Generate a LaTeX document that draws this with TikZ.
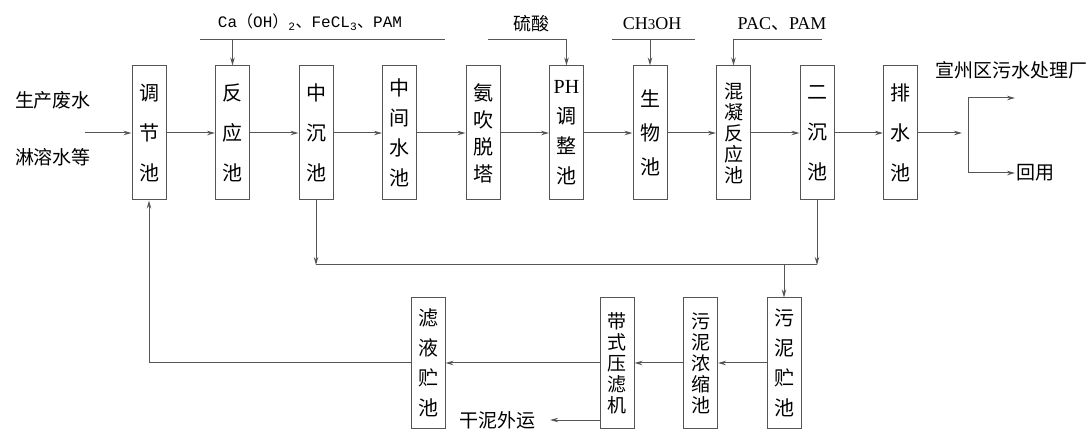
\documentclass[tikz,border=0pt]{standalone}
\usepackage{fontspec}
\setmainfont{Liberation Serif}
\newfontfamily\cjk{Noto Sans CJK SC}
\newfontfamily\mono{Liberation Mono}
\usepackage{tikz}
\usetikzlibrary{arrows.meta,positioning}
\usepackage{xcolor}
\definecolor{lnGray}{RGB}{85,85,85}
\tikzstyle{arrow} = [line width=1pt,-{Stealth[length=8pt,width=4.5pt]},color=lnGray]
\tikzstyle{line} = [line width=1pt,color=lnGray]
\tikzstyle{pool} = [rectangle, draw=lnGray, line width=1pt, minimum width=34pt, minimum height=134pt, inner sep=0pt, align=center, font=\cjk\fontsize{20}{40}\selectfont]
\tikzstyle{poolfour} = [pool, font=\cjk\fontsize{20}{30}\selectfont]
\tikzstyle{poolfive} = [pool, font=\cjk\fontsize{19}{21}\selectfont]
\tikzstyle{label} = [font=\cjk\fontsize{19}{22}\selectfont, inner sep=1pt]

\begin{document}
\begin{tikzpicture}[x=1pt,y=-1pt,node distance=83.5pt]
\useasboundingbox (0,0) rectangle (1090,430);
% Main line
\node (tj) [pool] at (149,133) {调\\节\\池};
\node (fy) [pool, right of=tj] {反\\应\\池};
\node (zc) [pool, right of=fy] {中\\沉\\池};
\node (zj) [poolfour, right of=zc] {中\\间\\水\\池};
\node (aq) [poolfour, right of=zj, font=\cjk\fontsize{20}{27}\selectfont] {氨\\吹\\脱\\塔};
\node (ph) [poolfour, right of=aq] {{\rmfamily PH}\\调\\整\\池};
\node (sw) [pool, right of=ph, font=\cjk\fontsize{20}{34}\selectfont] {生\\物\\池};
\node (hn) [poolfive, right of=sw] {混\\凝\\反\\应\\池};
\node (ec) [pool, right of=hn] {二\\沉\\池};
\node (ps) [pool, right of=ec] {排\\水\\池};

% Sludge line
\node (wz) [poolfour, minimum height=130pt] at (784,363) {污\\泥\\贮\\池};
\node (ns) [poolfive, minimum height=130pt, left of=wz] {污\\泥\\浓\\缩\\池};
\node (dy) [poolfive, minimum height=130pt, left of=ns] {带\\式\\压\\滤\\机};
\node (ly) [poolfour, minimum height=130pt] at (428,363) {滤\\液\\贮\\池};

% Inlet and outlet
\node (in1) [label] at (53,100) {生产废水};
\node (in2) [label] at (53,157) {淋溶水等};
\coordinate (inlet) at (85,133);
\coordinate (outlet) at (962,133);
\coordinate (brT) at (968,98);
\coordinate (brB) at (968,173);
\coordinate (brTe) at (1015,98);
\node (xz) [label] at (1011,70) {宣州区污水处理厂};
\node (hy) [label, anchor=west] at (1015,173) {回用};

\draw[arrow] (inlet) -- (tj);
\draw[arrow] (tj) -- (fy);
\draw[arrow] (fy) -- (zc);
\draw[arrow] (zc) -- (zj);
\draw[arrow] (zj) -- (aq);
\draw[arrow] (aq) -- (ph);
\draw[arrow] (ph) -- (sw);
\draw[arrow] (sw) -- (hn);
\draw[arrow] (hn) -- (ec);
\draw[arrow] (ec) -- (ps);
\draw[arrow] (ps) -- (outlet);
\draw[line] (brT) -- (brB);
\draw[arrow] (brT) -- (brTe);
\draw[arrow] (brB) -- (hy.west);

% Dosing
\coordinate (caL) at (200,40);
\coordinate (caR) at (445,40);
\coordinate (slL) at (488,40);
\coordinate (chL) at (612,40);
\coordinate (chR) at (695,40);
\coordinate (pcR) at (822,40);
\node (ca) [inner sep=1pt, font=\mono\fontsize{16}{18}\selectfont] at (310,22) {Ca{\cjk （}OH{\cjk ）}\textsubscript{2}{\cjk 、}FeCL\textsubscript{3}{\cjk 、}PAM};
\node (sl) [label, font=\cjk\fontsize{18}{20}\selectfont] at (531,24) {硫酸};
\node (ch) [inner sep=1pt, font=\fontsize{18}{20}\selectfont] at (652,24) {CH{\fontsize{15}{15}\selectfont 3}OH};
\node (pc) [inner sep=1pt, font=\fontsize{18}{20}\selectfont] at (782,24) {PAC{\cjk 、}PAM};
\draw[line] (caL) -- (caR);
\draw[arrow] (fy.north |- caL) -- (fy.north);
\draw[arrow] (slL) -| (ph.north);
\draw[line] (chL) -- (chR);
\draw[arrow] (sw.north |- chL) -- (sw.north);
\draw[arrow] (pcR) -| (hn.north);

% Sludge
\coordinate (sludge) at (0,265);
\draw[arrow] (zc.south) -- (zc.south |- sludge);
\draw[arrow] (ec.south) -- (ec.south |- sludge);
\draw[line] (zc.south |- sludge) -- (ec.south |- sludge);
\draw[arrow] (wz.north |- sludge) -- (wz.north);
\draw[arrow] (wz) -- (ns);
\draw[arrow] (ns) -- (dy);
\draw[arrow] (dy) -- (ly);
\draw[arrow] (ly.west) -| (tj.south);

% Dry sludge
\node (gn) [label] at (497,420) {干泥外运};
\draw[arrow] (dy.west |- gn) -- ([xshift=14pt]gn.east);
\end{tikzpicture}
\end{document}
